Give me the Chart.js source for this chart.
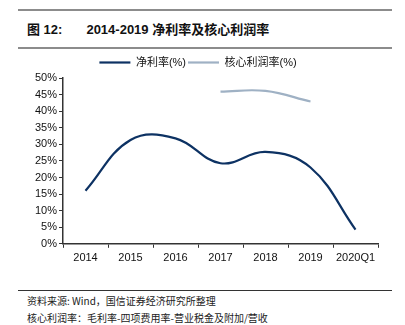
<!DOCTYPE html>
<html>
<head>
<meta charset="utf-8">
<script src="https://cdn.jsdelivr.net/npm/chart.js@4"></script>
<style>
  body { margin: 0; background: #fff; width: 405px; height: 325px; position: relative; overflow: hidden;
         font-family: "Liberation Sans", "Noto Sans CJK SC", sans-serif; }
  .rule { position: absolute; left: 18px; width: 374px; background: #8c8c8c; }
  #title { position: absolute; left: 27px; top: 19px; font-size: 13px; font-weight: bold; color: #111; white-space: nowrap; }
  #title span { margin-left: 24px; }
  #wrap { position: absolute; left: 0; top: 55px; width: 405px; height: 214px; }
  .note { position: absolute; left: 27px; font-size: 10px; color: #222; font-family: "Noto Sans CJK SC", sans-serif; white-space: nowrap; }
</style>
</head>
<body>
<div class="rule" style="top:9px;height:2px"></div>
<div id="title">图 12:<span>2014-2019 净利率及核心利润率</span></div>
<div class="rule" style="top:47px;height:2px"></div>
<div id="wrap"><canvas id="c"></canvas></div>
<div class="rule" style="top:290px;height:1px;background:#333"></div>
<div class="note" style="top:293px">资料来源: Wind，国信证券经济研究所整理</div>
<div class="note" style="top:310px">核心利润率：毛利率-四项费用率-营业税金及附加/营收</div>
<script>
const categories = ['2014', '2015', '2016', '2017', '2018', '2019', '2020Q1'];
const netMargin = [16, 31.3, 31.8, 24.3, 27.7, 23, 4.3];
const coreMargin = [null, null, null, 45.9, 46.1, 42.9, null];
const yTicks = [0, 5, 10, 15, 20, 25, 30, 35, 40, 45, 50];

new Chart(document.getElementById('c'), {
  type: 'line',
  data: {
    labels: categories,
    datasets: [
      { label: '净利率(%)', data: netMargin, borderColor: '#0d3263', borderWidth: 2.2, pointRadius: 0, tension: 0.4 },
      { label: '核心利润率(%)', data: coreMargin, borderColor: '#9fb1c4', borderWidth: 2.2, pointRadius: 0, tension: 0.4 }
    ]
  },
  options: {
    responsive: true,
    maintainAspectRatio: false,
    animation: false,
    layout: { padding: { left: 18, right: 27, top: 0, bottom: 0 } },
    plugins: {
      tooltip: { enabled: false },
      legend: {
        position: 'top',
        labels: {
          usePointStyle: true,
          pointStyle: 'line',
          pointStyleWidth: 31,
          color: '#111',
          font: { size: 11, family: '"Liberation Sans", "Noto Sans CJK SC", sans-serif' },
          padding: 2
        }
      }
    },
    scales: {
      x: {
        offset: true,
        grid: { offset: true, drawOnChartArea: false, tickLength: 4, color: '#333', tickColor: '#333' },
        border: { color: '#333', width: 1.5 },
        ticks: { color: '#111', font: { size: 11, family: '"Liberation Sans", sans-serif' }, padding: 4, maxRotation: 0 }
      },
      y: {
        min: 0, max: 50,
        afterBuildTicks: s => { s.ticks = yTicks.map(v => ({ value: v })); },
        afterFit: s => { s.width = 45; },
        grid: { drawOnChartArea: false, tickLength: 4, color: '#333', tickColor: '#333' },
        border: { color: '#333', width: 1.5 },
        ticks: { color: '#111', font: { size: 11, family: '"Liberation Sans", sans-serif' }, padding: 2,
                 callback: v => v + '%' }
      }
    }
  }
});
</script>
</body>
</html>
